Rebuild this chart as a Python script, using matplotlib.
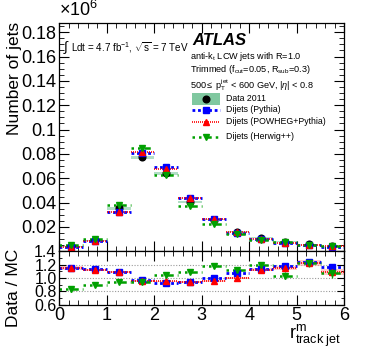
import numpy as np
import matplotlib
matplotlib.use("Agg")
import matplotlib.pyplot as plt
from matplotlib.ticker import MultipleLocator, FuncFormatter
from matplotlib.lines import Line2D
from matplotlib.patches import Rectangle

plt.rcParams['font.family'] = ['Liberation Sans', 'DejaVu Sans']
plt.rcParams['mathtext.fontset'] = 'custom'
plt.rcParams['mathtext.rm'] = 'Liberation Sans'
plt.rcParams['mathtext.it'] = 'Liberation Sans:italic'

# ---------------- data ----------------
bin_edges = [0.0, 0.5, 1.0, 1.5, 2.0, 2.5, 3.0, 3.5, 4.0, 4.5, 5.0, 5.5, 6.0]
data_2011 = [0.0040, 0.0091, 0.0353, 0.0774, 0.0640, 0.0407, 0.0259, 0.0160, 0.0113, 0.0078, 0.0059, 0.0045]
data_syst = [0.0003, 0.0004, 0.0010, 0.0012, 0.0010, 0.0008, 0.0005, 0.0004, 0.0003, 0.0003, 0.0002, 0.0002]
pythia = [0.0035, 0.0081, 0.0324, 0.0805, 0.0695, 0.0435, 0.0262, 0.0153, 0.0100, 0.0066, 0.0048, 0.0039]
powheg = [0.0035, 0.0081, 0.0322, 0.0815, 0.0675, 0.0438, 0.0268, 0.0160, 0.0101, 0.0068, 0.0049, 0.0041]
herwig = [0.0048, 0.0103, 0.0380, 0.0848, 0.0628, 0.0372, 0.0222, 0.0146, 0.0096, 0.0076, 0.0049, 0.0042]

ratio_pythia = [1.148, 1.133, 1.094, 0.965, 0.926, 0.936, 0.995, 1.074, 1.133, 1.183, 1.232, 1.163]
ratio_powheg = [1.143, 1.120, 1.094, 0.955, 0.946, 0.936, 0.955, 1.005, 1.123, 1.148, 1.222, 1.089]
ratio_herwig = [0.827, 0.886, 0.936, 0.936, 1.040, 1.094, 1.173, 1.120, 1.190, 1.035, 1.222, 1.069]
err_pythia = [0.03, 0.02, 0.01, 0.01, 0.01, 0.01, 0.01, 0.015, 0.02, 0.025, 0.03, 0.04]
err_powheg = [0.03, 0.02, 0.015, 0.01, 0.01, 0.01, 0.01, 0.015, 0.02, 0.03, 0.04, 0.05]
err_herwig = [0.04, 0.03, 0.02, 0.015, 0.02, 0.02, 0.02, 0.03, 0.04, 0.05, 0.06, 0.07]

main_yticks = [0.02, 0.04, 0.06, 0.08, 0.1, 0.12, 0.14, 0.16, 0.18]
ratio_yticks = [0.6, 0.8, 1.0, 1.2, 1.4]
ratio_lines = [0.8, 1.0, 1.2]

# ---------------- styles ----------------
BLUE = '#0000ff'
RED = '#ff0000'
GREEN = '#00a000'
BAND = '#80c8a0'
styles = {
    'pythia': dict(color=BLUE, ls=(0, (1, 1)), lw=2.0, marker='s', ms=4.2),
    'powheg': dict(color=RED, ls=(0, (0.6, 0.6)), lw=1.2, marker='^', ms=4.5),
    'herwig': dict(color=GREEN, ls=(0, (1, 1.6, 1, 1.6, 2.5, 1.6)), lw=1.8, marker='v', ms=4.5),
}

fig = plt.figure(figsize=(3.74, 3.59), dpi=100)
L, W = 0.1586, 0.7620
ax = fig.add_axes([L, 0.300, W, 0.6368])
rax = fig.add_axes([L, 0.1518, W, 0.1482], sharex=ax)

edges = np.array(bin_edges)
lo, hi = edges[:-1], edges[1:]
ctr = 0.5 * (lo + hi)

# ---- main panel ----
ax.bar(ctr, 2 * np.array(data_syst), width=hi - lo, bottom=np.array(data_2011) - np.array(data_syst),
       color=BAND, alpha=0.6, lw=0, zorder=1)
ax.plot(ctr, data_2011, 'o', color='black', ms=4.8, zorder=3)

for name, vals in [('pythia', pythia), ('powheg', powheg), ('herwig', herwig)]:
    s = styles[name]
    ax.hlines(vals, lo, hi, colors=s['color'], linestyles=[s['ls']], lw=s['lw'], zorder=2)
    ax.plot(ctr, vals, ls='none', marker=s['marker'], color=s['color'], ms=s['ms'], zorder=4)

ax.set_xlim(0, 6)
ax.set_ylim(0, 0.1878)
ax.set_yticks(main_yticks)
ax.yaxis.set_major_formatter(FuncFormatter(lambda v, p: '%g' % v))
ax.yaxis.set_minor_locator(MultipleLocator(0.005))

# ---- ratio panel ----
for y in ratio_lines:
    rax.axhline(y, color='#999999', ls=(0, (1, 1.5)), lw=0.8, zorder=0)

for name, vals, errs in [('pythia', ratio_pythia, err_pythia), ('powheg', ratio_powheg, err_powheg),
                         ('herwig', ratio_herwig, err_herwig)]:
    s = styles[name]
    v = np.array(vals)
    e = np.array(errs)
    if name == 'powheg':
        rax.bar(ctr, 2 * e, width=hi - lo, bottom=v - e, color='#ff9999', alpha=0.5, lw=0, zorder=1)
    rax.hlines(vals, lo, hi, colors=s['color'], linestyles=[s['ls']], lw=s['lw'], zorder=2)
    rax.errorbar(ctr, vals, yerr=errs, ls='none', marker=s['marker'], color=s['color'],
                 ms=s['ms'] - 0.5, elinewidth=1.0, capsize=0, zorder=3)

rax.set_ylim(0.6, 1.4)
rax.set_yticks(ratio_yticks)
rax.yaxis.set_major_formatter(FuncFormatter(lambda v, p: '%.1f' % v))
rax.yaxis.set_minor_locator(MultipleLocator(0.1))
rax.set_xticks([0, 1, 2, 3, 4, 5, 6])
rax.xaxis.set_minor_locator(MultipleLocator(0.2))

for a in (ax, rax):
    a.tick_params(which='both', direction='in', top=True, right=True, labelsize=13, pad=2)
    for sp in a.spines.values():
        sp.set_linewidth(0.9)
ax.tick_params(which='major', length=7)
ax.tick_params(which='minor', length=3.5)
ax.tick_params(axis='x', labelbottom=False)
rax.tick_params(axis='y', labelsize=11.5, pad=2)
rax.tick_params(which='major', length=5)
rax.tick_params(which='minor', length=2.5)
rax.tick_params(axis='x', which='major', length=7)
rax.tick_params(axis='x', which='minor', length=3.5)

# ---- labels ----
fig.text(0.040, 0.94, 'Number of jets', rotation=90, ha='center', va='top', fontsize=12.5)
fig.text(0.035, 0.197, 'Data / MC', rotation=90, ha='center', va='center', fontsize=12.5)
fig.text(0.913, 0.028, r'$\mathregular{r^{m}_{track\ jet}}$', ha='right', va='bottom', fontsize=13)
fig.text(0.158, 0.945, r'$\mathregular{\times10^{6}}$', ha='left', va='bottom', fontsize=13)

# ---- annotations ----
ax.text(0.012, 0.893, r'$\mathregular{\int}$', transform=ax.transAxes, fontsize=10, va='center', ha='left')
ax.text(0.040, 0.893, r'Ldt = 4.7 fb$\mathregular{^{-1}}$, $\mathregular{\sqrt{s}}$ = 7 TeV',
        transform=ax.transAxes, fontsize=7.1, va='center', ha='left')
ax.text(0.466, 0.922, 'ATLAS', transform=ax.transAxes, fontsize=12, fontweight='bold', style='italic',
        va='center', ha='left')
ax.text(0.460, 0.853, r'anti-k$\mathregular{_t}$ LCW jets with R=1.0', transform=ax.transAxes,
        fontsize=6.6, va='center', ha='left')
ax.text(0.460, 0.797, r'Trimmed (f$\mathregular{_{cut}}$=0.05, R$\mathregular{_{sub}}$=0.3)',
        transform=ax.transAxes, fontsize=6.6, va='center', ha='left')
ax.text(0.460, 0.728, r'500$\leq$ p$\mathregular{_T^{jet}}$ < 600 GeV, |$\eta$| < 0.8',
        transform=ax.transAxes, fontsize=6.6, va='center', ha='left')

# ---- legend (manual) ----
rows = [0.667, 0.619, 0.566, 0.502]
labels = ['Data 2011', 'Dijets (Pythia)', 'Dijets (POWHEG+Pythia)', 'Dijets (Herwig++)']
x0, x1, xt = 0.466, 0.564, 0.584
ax.add_patch(Rectangle((x0, rows[0] - 0.025), x1 - x0, 0.05, transform=ax.transAxes,
                       color=BAND, lw=0, zorder=5))
ax.add_line(Line2D([(x0 + x1) / 2], [rows[0]], transform=ax.transAxes, marker='o', color='black',
                   ms=4.8, ls='none', zorder=6))
for r, name in zip(rows[1:], ['pythia', 'powheg', 'herwig']):
    s = styles[name]
    ax.add_line(Line2D([x0, x1], [r, r], transform=ax.transAxes, color=s['color'], ls=s['ls'],
                       lw=s['lw'], zorder=6))
    ax.add_line(Line2D([(x0 + x1) / 2], [r], transform=ax.transAxes, marker=s['marker'],
                       color=s['color'], ms=s['ms'], ls='none', zorder=6))
for r, t in zip(rows, labels):
    ax.text(xt, r, t, transform=ax.transAxes, fontsize=6.3, va='center', ha='left')

fig.savefig('out.png', dpi=100)
